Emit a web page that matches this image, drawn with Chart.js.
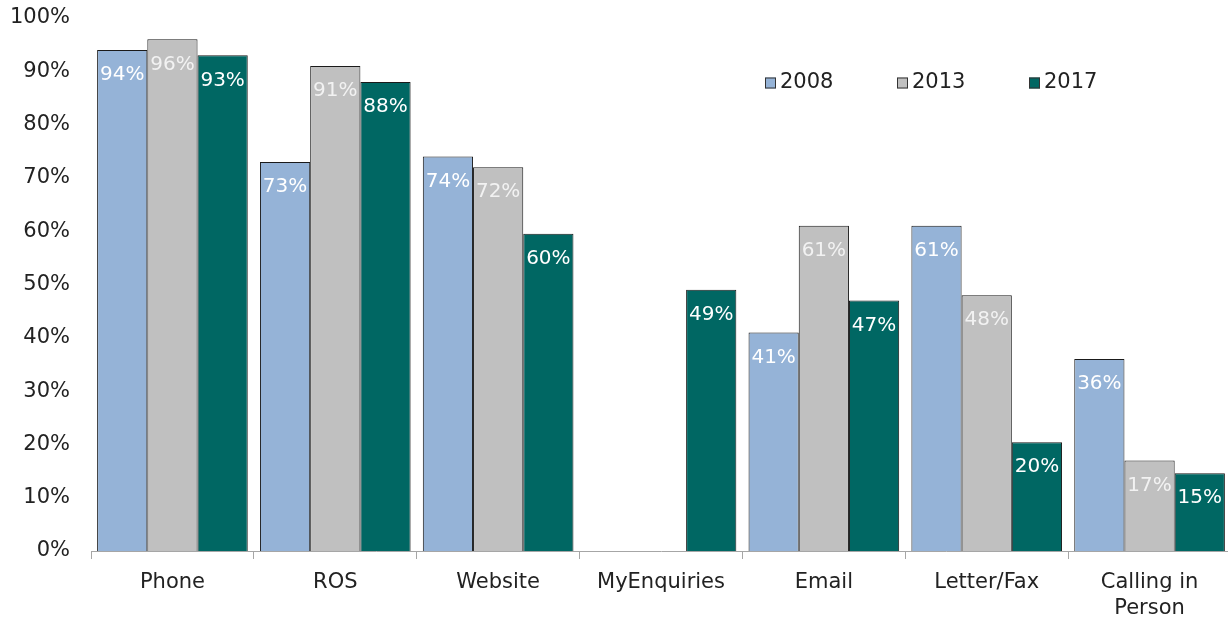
<!DOCTYPE html>
<html>
<head>
<meta charset="utf-8">
<script src="https://cdn.jsdelivr.net/npm/chart.js@4/dist/chart.umd.min.js"></script>
<style>
html,body{margin:0;padding:0;background:#fff;overflow:hidden;}
#wrap{width:1231px;height:621px;position:relative;}
</style>
</head>
<body>
<div id="wrap"><canvas id="c"></canvas></div>
<script>
const categories = ['Phone', 'ROS', 'Website', 'MyEnquiries', 'Email', 'Letter/Fax', ['Calling in', 'Person']];
const seriesNames = ['2008', '2013', '2017'];
const values2008 = [94, 73, 74, null, 41, 61, 36];
const values2013 = [96, 91, 72, null, 61, 48, 17];
const values2017 = [93, 88, 59.5, 49, 47, 20.4, 14.6];
const yTicks = [0, 10, 20, 30, 40, 50, 60, 70, 80, 90, 100];

const colors = ['#95B3D7', '#C0C0C0', '#006763'];
const FONT = 'DejaVu Sans';

const labelPlugin = {
  id: 'barLabels',
  afterDatasetsDraw(chart) {
    const ctx = chart.ctx;
    ctx.save();
    ctx.font = '20px "' + FONT + '"';
    ctx.textAlign = 'center';
    ctx.textBaseline = 'middle';
    chart.data.datasets.forEach((ds, di) => {
      const meta = chart.getDatasetMeta(di);
      meta.data.forEach((el, i) => {
        const v = ds.data[i];
        if (v === null || v === undefined) return;
        ctx.fillStyle = di === 1 ? '#f2f2f2' : '#ffffff';
        ctx.fillText(Math.round(v) + '%', el.x, el.y + 25);
      });
    });
    ctx.restore();
  }
};

const legendPlugin = {
  id: 'customLegend',
  afterDraw(chart) {
    const ctx = chart.ctx;
    ctx.save();
    ctx.font = '21px "' + FONT + '"';
    ctx.textBaseline = 'middle';
    ctx.textAlign = 'left';
    const startX = 765, y = 83, step = 132;
    chart.data.datasets.forEach((ds, di) => {
      const x = startX + di * step;
      ctx.fillStyle = ds.backgroundColor;
      ctx.fillRect(x, y - 5.5, 11, 11);
      ctx.strokeStyle = '#333';
      ctx.lineWidth = 1;
      ctx.strokeRect(x + 0.5, y - 5, 10, 10);
      ctx.fillStyle = '#222';
      ctx.fillText(ds.label, x + 15, y);
    });
    ctx.restore();
  }
};

new Chart(document.getElementById('c'), {
  type: 'bar',
  data: {
    labels: categories,
    datasets: [
      { label: seriesNames[0], data: values2008, backgroundColor: colors[0] },
      { label: seriesNames[1], data: values2013, backgroundColor: colors[1] },
      { label: seriesNames[2], data: values2017, backgroundColor: colors[2] }
    ].map(d => Object.assign(d, { borderColor: '#1a1a1a', borderWidth: 1, categoryPercentage: 0.925, barPercentage: 1 }))
  },
  options: {
    responsive: true,
    maintainAspectRatio: false,
    animation: false,
    layout: { padding: { top: 18, right: 0, bottom: 0, left: 0 } },
    plugins: { legend: { display: false }, tooltip: { enabled: false } },
    scales: {
      x: {
        grid: { display: true, drawOnChartArea: false, offset: true, color: '#a6a6a6', tickLength: 8, lineWidth: 1 },
        border: { display: true, color: '#a6a6a6' },
        ticks: { color: '#222', font: { family: FONT, size: 21, lineHeight: 1.22 }, padding: 11, maxRotation: 0, autoSkip: false },
        afterFit(scale) { scale.height = 70; }
      },
      y: {
        min: 0, max: 100,
        afterBuildTicks(scale) { scale.ticks = yTicks.map(v => ({ value: v })); },
        grid: { display: false, drawTicks: false },
        border: { display: false },
        ticks: { color: '#222', font: { family: FONT, size: 21 }, padding: 21, callback: v => v + '%' },
        afterFit(scale) { scale.width = 91; scale.paddingTop = 0; scale.paddingBottom = 0; }
      }
    }
  },
  plugins: [labelPlugin, legendPlugin]
});
</script>
</body>
</html>
